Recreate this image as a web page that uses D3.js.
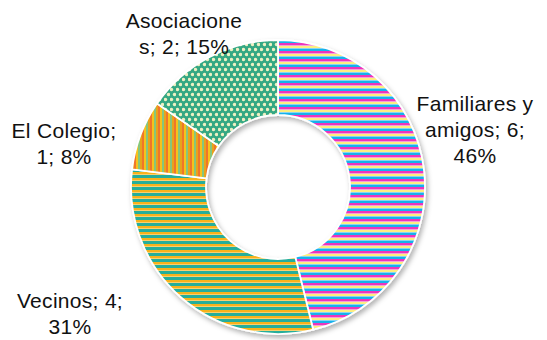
<!DOCTYPE html>
<html><head><meta charset="utf-8">
<script src="https://cdn.jsdelivr.net/npm/d3@7"></script>
<style>html,body{margin:0;padding:0;background:#fff;}svg{display:block;}</style>
</head><body>
<svg id="chart" width="547" height="340"></svg>
<script>
const categories = ["Familiares y amigos", "Vecinos", "El Colegio", "Asociaciones"];
const values = [6, 4, 1, 2];
const percents = ["46%", "31%", "8%", "15%"];
const labelLines = [
  ["Familiares y", "amigos; 6;", "46%"],
  ["Vecinos; 4;", "31%"],
  ["El Colegio;", "1; 8%"],
  ["Asociacione", "s; 2; 15%"]
];

const svg = d3.select("#chart");
const cx = 278, cy = 187, R = 147, r = 72;

const defs = svg.append("defs");
const f = defs.append("filter").attr("id","sh").attr("x","-20%").attr("y","-20%").attr("width","140%").attr("height","140%");
f.append("feDropShadow").attr("dx",2).attr("dy",3).attr("stdDeviation",2.5).attr("flood-color","#000").attr("flood-opacity",0.3);

const p0 = defs.append("pattern").attr("id","p0").attr("patternUnits","userSpaceOnUse").attr("width",8).attr("height",8);
[["#ec35bd",0,2],["#f6a0d6",2,1],["#fdee80",3,2],["#88d4f2",5,1],["#19b2ec",6,2]].forEach(([c,y,h])=>p0.append("rect").attr("x",0).attr("y",y).attr("width",8).attr("height",h).attr("fill",c));
const p1 = defs.append("pattern").attr("id","p1").attr("patternUnits","userSpaceOnUse").attr("width",6).attr("height",6);
[["#27ae9a",0,3],["#f7b21c",3,2],["#f8d070",5,1]].forEach(([c,y,h])=>p1.append("rect").attr("x",0).attr("y",y).attr("width",6).attr("height",h).attr("fill",c));
const p2 = defs.append("pattern").attr("id","p2").attr("patternUnits","userSpaceOnUse").attr("width",8).attr("height",8);
[["#f0762a",0,2],["#f6c21e",2,2],["#86c67c",4,2],["#e9a21c",6,2]].forEach(([c,x,w])=>p2.append("rect").attr("x",x).attr("y",0).attr("width",w).attr("height",8).attr("fill",c));
const p3 = defs.append("pattern").attr("id","p3").attr("patternUnits","userSpaceOnUse").attr("width",6).attr("height",10);
p3.append("rect").attr("width",6).attr("height",10).attr("fill","#35a883");
[[1.5,2.5],[4.5,7.5]].forEach(([x,y])=>p3.append("circle").attr("cx",x).attr("cy",y).attr("r",1.7).attr("fill","#eef0c2"));

const pie = d3.pie().sort(null).value(d=>d)(values);
const arc = d3.arc().innerRadius(r).outerRadius(R);

const g = svg.append("g").attr("transform",`translate(${cx},${cy})`);
g.append("g").attr("filter","url(#sh)").selectAll("path").data(pie).join("path")
  .attr("d",arc).attr("fill",(d,i)=>`url(#p${i})`).attr("stroke","#fff").attr("stroke-width",1.8).attr("stroke-linejoin","round");

const labelPos = [[475,111],[70,308],[64,138],[184,28]];
const lh = 26;
labelLines.forEach((lines,i)=>{
  const t = svg.append("text").attr("x",labelPos[i][0]).attr("y",labelPos[i][1])
    .attr("text-anchor","middle").attr("font-family","Liberation Sans, Arial, sans-serif")
    .attr("font-size",21).attr("letter-spacing",0.3).attr("fill","#111");
  lines.forEach((l,j)=>t.append("tspan").attr("x",labelPos[i][0]).attr("dy",j?lh:0).text(l));
});
</script>
</body></html>
